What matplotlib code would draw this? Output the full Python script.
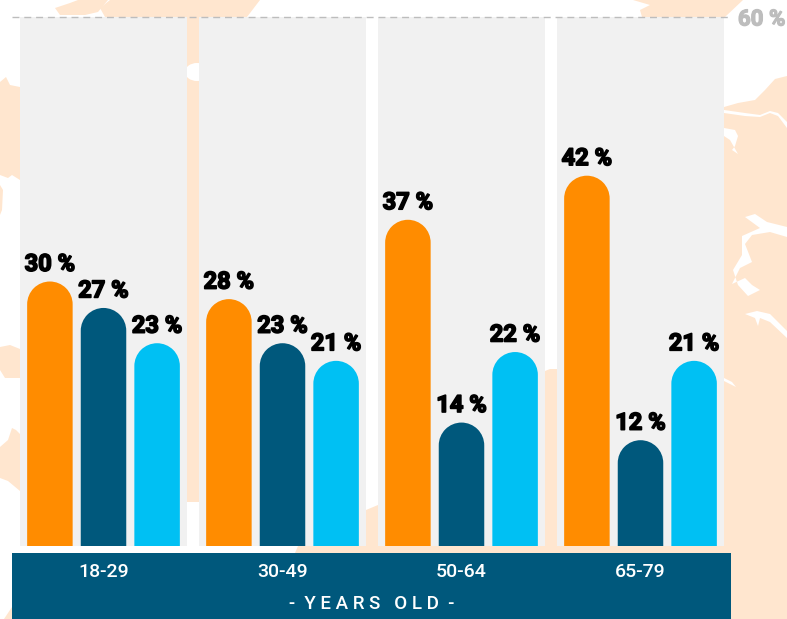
import numpy as np
import matplotlib
matplotlib.use("Agg")
import matplotlib.pyplot as plt
import matplotlib.patheffects as pe
from matplotlib.path import Path
from matplotlib.patches import PathPatch, Polygon, Ellipse, Rectangle

# ---- data ----
age_groups = ["18-29", "30-49", "50-64", "65-79"]
orange_values = [30, 28, 37, 42]
navy_values = [27, 23, 14, 12]
cyan_values = [23, 21, 22, 21]
series_values = [orange_values, navy_values, cyan_values]
series_colors = ["#FF8C00", "#00587C", "#00C0F3"]
axis_title = "-  Y E A R S   O L D  -"
y_max = 60
y_tick_text = "60 %"

# ---- style ----
W, H = 787, 619
PEACH = "#FFE6CF"
PANEL = "#F1F1F1"
NAVY = "#00587C"
GREY = "#BDBDBD"
LABEL_FONT = ["Roboto", "DejaVu Sans"]
TICK_FONT = ["Roboto", "DejaVu Sans"]

fig = plt.figure(figsize=(W / 100, H / 100), dpi=100, facecolor="white")

# decorative map backdrop and band, in pixel coordinates
bg = fig.add_axes([0, 0, 1, 1], zorder=0)
bg.set_xlim(0, W)
bg.set_ylim(H, 0)
bg.axis("off")

peach_shapes = [
    [(110, 0), (260, 0), (247, 17), (105, 17), (100, 8)],
    [(55, 8), (70, 3), (78, 0), (108, 0), (98, 12), (85, 15), (60, 15)],
    [(633, 0), (743, 0), (725, 17), (642, 17), (640, 10), (650, 5)],
    [(0, 82), (6, 77), (10, 85), (20, 87), (20, 180), (12, 175), (8, 178), (0, 175)],
    [(0, 185), (3, 190), (2, 210), (0, 215)],
    [(0, 347), (10, 345), (20, 349), (20, 378), (5, 378), (0, 370)],
    [(0, 447), (8, 440), (12, 428), (16, 430), (20, 434), (20, 491), (8, 481), (0, 478)],
    [(4, 619), (12, 607), (12, 619)],
    [(187, 17), (199, 17), (199, 502), (187, 502)],
    [(295, 553), (298, 546), (366, 510), (378, 505), (378, 553)],
    [(378, 546), (731, 546), (731, 553), (378, 553)],
    [(545, 371), (550, 369), (557, 369), (557, 546), (545, 546)],
    [(724, 107), (738, 103), (755, 100), (765, 90), (775, 79), (787, 76), (787, 619), (731, 619), (731, 546), (724, 546)],
]
for pts in peach_shapes:
    bg.add_patch(Polygon(pts, closed=True, facecolor=PEACH, edgecolor="none"))
bg.add_patch(Ellipse((197, 72), 24, 18, facecolor="white", edgecolor="none"))

white_shapes = [
    [(724, 113), (745, 116), (760, 117), (770, 113), (778, 116), (787, 128), (787, 122), (778, 113), (770, 111), (760, 115), (745, 113), (724, 110)],
    [(724, 128), (735, 130), (738, 136), (735, 146), (732, 150), (738, 154), (730, 140), (724, 136)],
    [(745, 217), (755, 214), (767, 222), (787, 227), (787, 237), (770, 232), (752, 235), (745, 244), (752, 262), (740, 268), (732, 284), (745, 278), (752, 285), (760, 290), (748, 296), (738, 285), (733, 270), (742, 255), (742, 236), (760, 228)],
    [(745, 314), (757, 311), (770, 314), (787, 331), (787, 338), (770, 322), (760, 318), (758, 326), (755, 318)],
    [(724, 378), (732, 382), (736, 387), (724, 381)],
]
for pts in white_shapes:
    bg.add_patch(Polygon(pts, closed=True, facecolor="white", edgecolor="none"))

bg.add_patch(Rectangle((12, 553), 719, 66, facecolor=NAVY, edgecolor="none"))

# main axes: spans x 12..731 px, y 546..17 px
ax = fig.add_axes([12 / W, (H - 546) / H, 719 / W, 529 / H], zorder=1)
ax.patch.set_visible(False)
GROUP_PX = 179.0
ax.set_xlim((12 - 103.5) / GROUP_PX, (731 - 103.5) / GROUP_PX)
ax.set_ylim(0, y_max)
for s in ax.spines.values():
    s.set_visible(False)

PX_Y = 529.0 / y_max
bar_w = 45.5 / GROUP_PX
offsets = np.array([-53.6, 0.0, 53.6]) / GROUP_PX
rx, ry = bar_w / 2, (bar_w / 2 * GROUP_PX) / PX_Y


def rounded_bar(xc, v, color):
    arc = Path.arc(0, 180)
    av = arc.vertices * np.array([rx, ry]) + np.array([xc, v - ry])
    ac = arc.codes.copy()
    ac[0] = Path.LINETO
    verts = np.vstack([[(xc + rx, 0)], av, [(xc - rx, 0)], [(xc + rx, 0)]])
    codes = np.concatenate([[Path.MOVETO], ac, [Path.LINETO], [Path.CLOSEPOLY]])
    return PathPatch(Path(verts, codes), facecolor=color, edgecolor="none", zorder=3)


positions = np.arange(len(age_groups))
for p in positions:
    ax.axvspan(p - 83.5 / GROUP_PX, p + 83.5 / GROUP_PX, facecolor=PANEL, edgecolor="none", zorder=1)

heavy = [pe.withStroke(linewidth=1.2, foreground="black")]
for vals, col, off in zip(series_values, series_colors, offsets):
    for p, v in zip(positions, vals):
        ax.add_patch(rounded_bar(p + off, v, col))
        ax.annotate(f"{v} %", (p + off, v), xytext=(0, 7.6), textcoords="offset points",
                    ha="center", va="baseline", fontsize=17, fontweight="bold",
                    family=LABEL_FONT, color="black", zorder=4, path_effects=heavy)

ax.set_xticks(positions, age_groups)
ax.tick_params(axis="x", length=0, pad=12.5, labelsize=14, labelcolor="white")
for t in ax.get_xticklabels():
    t.set_family(TICK_FONT)
    t.set_fontweight(500)

ax.set_yticks([y_max], [y_tick_text])
ax.yaxis.tick_right()
ax.tick_params(axis="y", length=0, pad=5, labelsize=16, labelcolor=GREY)
for t in ax.get_yticklabels():
    t.set_family(LABEL_FONT)
    t.set_fontweight("bold")
    t.set_path_effects([pe.withStroke(linewidth=0.9, foreground=GREY)])
ax.yaxis.grid(True, color=GREY, linewidth=1, linestyle=(0, (5, 3.5)), zorder=5)
for gl in ax.get_ygridlines():
    gl.set_clip_on(False)
ax.set_axisbelow(False)

ax.set_xlabel(axis_title, color="white", fontsize=13.5, fontweight=500, family=TICK_FONT, labelpad=10)

fig.savefig("out.png", dpi=100)
